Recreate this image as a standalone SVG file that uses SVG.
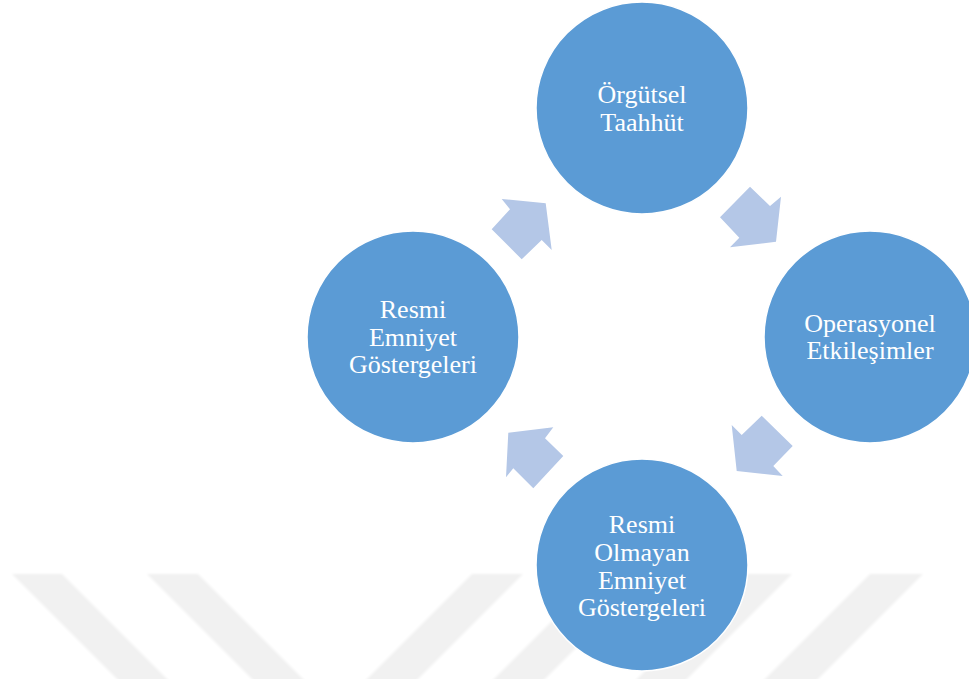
<svg xmlns="http://www.w3.org/2000/svg" width="969" height="679" viewBox="0 0 969 679">
<defs>
<filter id="soft" x="-5%" y="-5%" width="110%" height="110%"><feGaussianBlur stdDeviation="1.2"/></filter>
</defs>
<style>
.wm{fill:#F1F1F1}
.node circle{fill:#5B9BD5;stroke:#FFFFFF;stroke-width:1.5}
.node text{fill:#FFFFFF;font-family:"Liberation Serif","Times New Roman",serif;font-size:26px;text-anchor:middle}
.arrow{fill:#B4C7E7}
</style>
<rect width="969" height="679" fill="#FFFFFF"/>
<g id="watermark" filter="url(#soft)">
<polygon class="wm" points="12,574 62,574 177,689 127,689"/>
<polygon class="wm" points="147,574 198,574 313,689 262,689"/>
<polygon class="wm" points="472,574 523,574 408,689 357,689"/>
<polygon class="wm" points="599,574 650,574 535,689 484,689"/>
<polygon class="wm" points="742,574 792,574 677,689 627,689"/>
<polygon class="wm" points="870,574 923,574 808,689 755,689"/>
</g>
<g id="node-orgutsel" class="node">
<circle cx="642" cy="108" r="106"/>
<text x="642" y="103">Örgütsel</text>
<text x="642" y="131">Taahhüt</text>
</g>
<g id="node-operasyonel" class="node">
<circle cx="870" cy="337" r="106"/>
<text x="870" y="332">Operasyonel</text>
<text x="870" y="359">Etkileşimler</text>
</g>
<g id="node-resmi-olmayan" class="node">
<circle cx="642" cy="565" r="106"/>
<text x="642" y="533">Resmi</text>
<text x="642" y="561">Olmayan</text>
<text x="642" y="589">Emniyet</text>
<text x="642" y="616">Göstergeleri</text>
</g>
<g id="node-resmi" class="node">
<circle cx="413" cy="337" r="106"/>
<text x="413" y="318">Resmi</text>
<text x="413" y="346">Emniyet</text>
<text x="413" y="373">Göstergeleri</text>
</g>
<g id="connectors">
<polygon class="arrow" points="501.7,199 545.7,203.3 551.7,250 541.7,240 521.7,259.3 491.7,229.3 510,209.3"/>
<polygon class="arrow" points="750,186.7 770,206 781,196.7 776,241.7 730,247.3 739.3,237.7 720,217.3"/>
<polygon class="arrow" points="761.7,415.7 792.7,446 773.3,466 782.7,476 736.7,471 731.7,425 741.7,435"/>
<polygon class="arrow" points="553.3,427.3 545,438.3 563.3,456 533.3,488.3 513.3,468.3 506,477.3 508.3,432.7"/>
</g>
</svg>
